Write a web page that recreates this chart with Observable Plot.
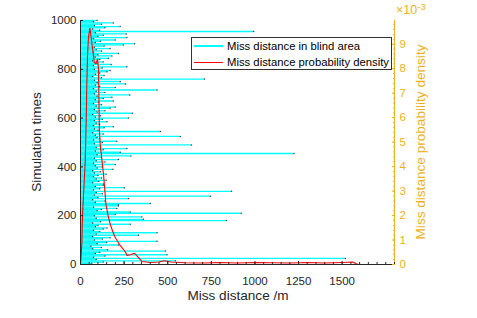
<!DOCTYPE html>
<html><head><meta charset="utf-8">
<script src="https://cdn.jsdelivr.net/npm/d3@7"></script>
<script src="https://cdn.jsdelivr.net/npm/@observablehq/plot@0.6"></script>
<style>
body{margin:0;background:#fff;font-family:"Liberation Sans",Arial,sans-serif;}
#wrap{position:relative;width:477px;height:318px;overflow:hidden;}
.lab{position:absolute;white-space:nowrap;transform:translate(-50%,-50%);color:#262626;font-size:13.6px;line-height:1;}
.rot{transform:translate(-50%,-50%) rotate(-90deg);}
#legend{position:absolute;left:191px;top:37px;width:199px;height:31px;border:1px solid #333;background:#fff;font-size:11.3px;color:#000;}
#legend .row{position:absolute;left:2px;height:14px;display:flex;align-items:center;}
#legend .sw{width:29px;height:0;margin-right:4px;}
#exp{position:absolute;left:396px;top:4px;color:#EDB120;font-size:12.5px;line-height:1;}
#exp sup{font-size:9.5px;vertical-align:0;position:relative;top:-4px;}
</style></head><body><div id="wrap"></div>
<script>
// Simulation index (each bar stands for a group of 5 runs)
const simTimes = [5,10,15,20,25,30,35,40,45,50,55,60,65,70,75,80,85,90,95,100,
105,110,115,120,125,130,135,140,145,150,155,160,165,170,175,180,185,190,195,200,
205,210,215,220,225,230,235,240,245,250,255,260,265,270,275,280,285,290,295,300,
305,310,315,320,325,330,335,340,345,350,355,360,365,370,375,380,385,390,395,400,
405,410,415,420,425,430,435,440,445,450,455,460,465,470,475,480,485,490,495,500,
505,510,515,520,525,530,535,540,545,550,555,560,565,570,575,580,585,590,595,600,
605,610,615,620,625,630,635,640,645,650,655,660,665,670,675,680,685,690,695,700,
705,710,715,720,725,730,735,740,745,750,755,760,765,770,775,780,785,790,795,800,
805,810,815,820,825,830,835,840,845,850,855,860,865,870,875,880,885,890,895,900,
905,910,915,920,925,930,935,940,945,950,955,960,965,970,975,980,985,990,995,1000];
// Miss distance in blind area (m)
const missDistance = [65,130,544,90,1518,75,140,496,85,110,
487,156,70,120,60,218,95,150,439,80,
125,170,70,333,90,439,110,75,130,152,
85,100,285,70,115,837,361,90,352,80,
199,921,285,95,120,208,75,217,218,400,
85,140,70,275,100,745,80,125,90,866,
75,110,251,85,130,132,70,105,147,90,
120,75,100,147,80,115,70,186,95,125,
85,199,75,140,90,218,80,120,289,95,
1224,228,85,130,266,90,115,636,80,125,
208,75,110,95,572,85,130,70,458,100,
80,135,188,75,110,90,152,80,125,275,
85,115,70,298,95,140,80,170,199,90,
120,75,105,188,85,130,180,95,282,80,
140,90,439,75,199,110,85,258,95,228,
80,711,120,70,135,85,110,152,170,80,
125,266,75,176,95,130,70,110,161,85,
180,100,218,75,120,90,170,80,135,246,
310,85,115,199,75,266,100,130,262,85,
992,110,70,140,227,80,120,188,75,95];
// Miss distance probability density (x 10^-3)
const pdfDistance = [0,4,8,10,14,20,27,33,36,40,46,54,66,79,88,98,103,105,108,113,133,146,158,171,185,199,225,257,267,285,310,330,353,400,450,480,520,600,700,800,900,1000,1100,1200,1300,1400,1500,1560,1590];
const pdfDensity  = [0,0.4,0.9,1.6,2.4,3.2,4.2,6.0,7.3,8.5,9.3,9.65,9.0,8.27,8.2,8.39,8.0,7.0,5.5,4.9,3.6,2.45,2.0,1.63,1.35,1.1,0.8,0.52,0.37,0.4,0.46,0.3,0.12,0.08,0.1,0.15,0.1,0.07,0.06,0.08,0.06,0.08,0.07,0.06,0.08,0.06,0.08,0.1,0];

const xTicks = [0,250,500,750,1000,1250,1500];
const leftTicks = [0,200,400,600,800,1000];
const rightTicks = [0,1,2,3,4,5,6,7,8,9];
const legendLabels = ["Miss distance in blind area","Miss distance probability density"];

const X_MAX = 1800, SIM_MAX = 1000, DENS_MAX = 9.97;
const GOLD = "#EDB120", CYAN = "#00FFFF", RED = "#FF0000", INK = "#262626";
const k = SIM_MAX / DENS_MAX;

const bars = simTimes.map((s, i) => ({s, d: missDistance[i]}));
const pdf = pdfDistance.map((x, i) => ({x, y: pdfDensity[i] * k}));
const xMinor = d3.range(0, X_MAX + 1, 50);
const rMinor = d3.range(0, 9.81, 0.2).map(v => v * k);

const chart = Plot.plot({
  width: 477, height: 318,
  marginLeft: 80, marginRight: 83, marginTop: 20, marginBottom: 54,
  x: {domain: [0, X_MAX]},
  y: {domain: [0, SIM_MAX]},
  style: {fontFamily: '"Liberation Sans", Arial, sans-serif', fontSize: "11.5px", color: INK, background: "#fff"},
  marks: [
    Plot.ruleY(bars, {y: "s", x1: 0, x2: "d", stroke: CYAN, strokeWidth: 1.35}),
    Plot.dot(bars, {x: "d", y: "s", r: 0.75, fill: "#3a3a3a", stroke: null}),
    Plot.line(pdf, {x: "x", y: "y", stroke: RED, strokeWidth: 1.1}),
    Plot.ruleY([0], {stroke: INK, strokeWidth: 1}),
    Plot.ruleX([0], {stroke: INK, strokeWidth: 1}),
    Plot.ruleX([X_MAX], {stroke: GOLD, strokeWidth: 1}),
    Plot.axisX({ticks: xTicks, tickSize: -3, label: null, tickFormat: () => ""}),
    Plot.axisX({ticks: xTicks, tickSize: 0, tickPadding: 12, label: null, tickFormat: d => String(d)}),
    Plot.axisX({ticks: xMinor, tickSize: -2, tickPadding: 0, label: null, tickFormat: () => ""}),
    Plot.axisY({ticks: leftTicks, tickSize: -3, tickPadding: 7, label: null, tickFormat: d => String(d)}),
    Plot.axisY({anchor: "right", ticks: rightTicks.map(v => v * k), tickSize: -3, tickPadding: 8, label: null,
      tickFormat: d => String(Math.round(d / k)), color: GOLD}),
    Plot.axisY({anchor: "right", ticks: rMinor, tickSize: -2, tickPadding: 0, label: null, tickFormat: () => "", color: GOLD})
  ]
});

const wrap = document.getElementById("wrap");
wrap.appendChild(chart);

function addLabel(text, x, y, cls, color) {
  const d = document.createElement("div");
  d.className = "lab" + (cls ? " " + cls : "");
  d.style.left = x + "px"; d.style.top = y + "px";
  if (color) d.style.color = color;
  d.textContent = text;
  wrap.appendChild(d);
}
addLabel("Miss distance /m", 238, 296);
addLabel("Simulation times", 37, 142, "rot");
addLabel("Miss distance probability density", 421, 142, "rot", GOLD);

const exp = document.createElement("div");
exp.id = "exp";
exp.innerHTML = "×10<sup>-3</sup>";
wrap.appendChild(exp);

const lg = document.createElement("div");
lg.id = "legend";
[CYAN, RED].forEach((c, i) => {
  const row = document.createElement("div");
  row.className = "row";
  row.style.top = (i === 0 ? 1 : 17) + "px";
  const sw = document.createElement("div");
  sw.className = "sw";
  sw.style.borderTop = (i === 0 ? 2 : 1.3) + "px solid " + c;
  const t = document.createElement("span");
  t.textContent = legendLabels[i];
  row.appendChild(sw); row.appendChild(t);
  lg.appendChild(row);
});
wrap.appendChild(lg);
</script></body></html>
